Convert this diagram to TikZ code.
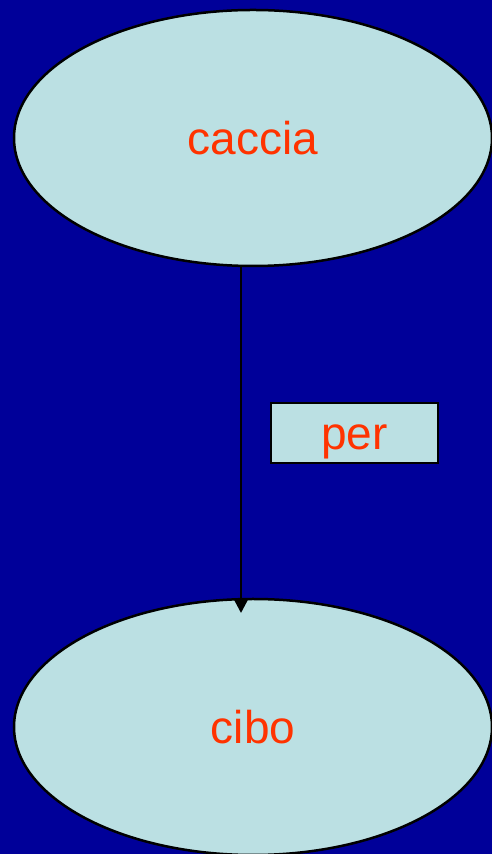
\documentclass[tikz,border=0pt]{standalone}
\usepackage{fontspec}
\setmainfont{Liberation Sans}
\usetikzlibrary{shapes.geometric,arrows.meta}
\definecolor{bgblue}{RGB}{0,0,153}
\definecolor{fillblue}{RGB}{187,224,227}
\definecolor{txtred}{RGB}{255,51,0}
\tikzset{
  concept/.style={ellipse, draw=black, line width=2.5pt, fill=fillblue,
    minimum width=478pt, minimum height=256pt, inner sep=0pt,
    text=txtred, font=\fontsize{46}{50}\selectfont, text height=34pt, text depth=0pt},
  linkbox/.style={rectangle, draw=black, line width=2.5pt, fill=fillblue,
    minimum width=167pt, minimum height=60pt, inner sep=0pt,
    text=txtred, font=\fontsize{46}{50}\selectfont, text height=33pt, text depth=0pt},
  conn/.style={draw=black, line width=2.5pt, -{Triangle[width=13pt,length=13pt]}}
}
\begin{document}
\begin{tikzpicture}[x=1pt,y=1pt]
\fill[bgblue] (0,0) rectangle (492,854);
\useasboundingbox (0,0) rectangle (492,854);
\node[concept] (caccia) at (253,716) {caccia};
\node[concept] (cibo) at (253,127) {cibo};
\node[linkbox] (per) at (354.5,421) {per};
\coordinate (start) at ([xshift=-12pt]caccia.south);
\coordinate (tip) at (241,241);
\draw[conn] (start) -- (tip);
\end{tikzpicture}
\end{document}
